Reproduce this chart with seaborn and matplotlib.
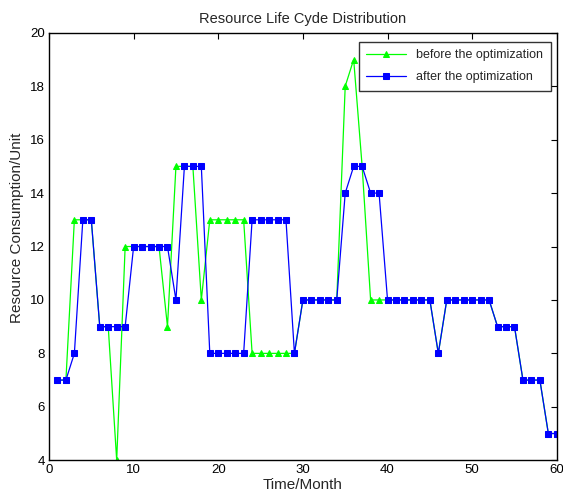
# Resource life cycle distribution, before/after optimization
import pandas as pd
import matplotlib
matplotlib.use("Agg")
import matplotlib.pyplot as plt
import seaborn as sns

# Data
months = list(range(1, 61))
before = [7, 7, 13, 13, 13, 9, 9, 4, 12, 12,
          12, 12, 12, 9, 15, 15, 15, 10, 13, 13,
          13, 13, 13, 8, 8, 8, 8, 8, 8, 10,
          10, 10, 10, 10, 18, 19, 15, 10, 10, 10,
          10, 10, 10, 10, 10, 8, 10, 10, 10, 10,
          10, 10, 9, 9, 9, 7, 7, 7, 5, 5]
after = [7, 7, 8, 13, 13, 9, 9, 9, 9, 12,
         12, 12, 12, 12, 10, 15, 15, 15, 8, 8,
         8, 8, 8, 13, 13, 13, 13, 13, 8, 10,
         10, 10, 10, 10, 14, 15, 15, 14, 14, 10,
         10, 10, 10, 10, 10, 8, 10, 10, 10, 10,
         10, 10, 9, 9, 9, 7, 7, 7, 5, 5]
x_ticks = [0, 10, 20, 30, 40, 50, 60]
y_ticks = [4, 6, 8, 10, 12, 14, 16, 18, 20]

df = pd.DataFrame({"month": months, "before": before, "after": after})

sns.set_style("white")
plt.rcParams["font.family"] = ["Liberation Sans", "DejaVu Sans"]

fig = plt.figure(figsize=(5.63, 4.97), dpi=100)
ax = fig.add_axes([0.087, 0.074, 0.902, 0.86])

sns.lineplot(data=df, x="month", y="before", ax=ax, color="#00ff00",
             marker="^", markersize=4, markeredgecolor="#00ff00",
             linewidth=0.9, label="before the optimization")
sns.lineplot(data=df, x="month", y="after", ax=ax, color="#0000ff",
             marker="s", markersize=4.5, markeredgecolor="#0000ff",
             linewidth=0.9, label="after the optimization")

ax.set_xlim(0, 60)
ax.set_ylim(4, 20)
ax.set_xticks(x_ticks)
ax.set_yticks(y_ticks)
ax.tick_params(direction="in", length=4, width=0.8, labelsize=9.5,
               top=True, right=True, colors="black", pad=3)
for s in ax.spines.values():
    s.set_color("black")
    s.set_linewidth(1.0)

ax.set_title("Resource Life Cyde Distribution", fontsize=10.5, pad=7)
ax.set_xlabel("Time/Month", fontsize=11, labelpad=1)
ax.set_ylabel("Resource Consumption/Unit", fontsize=11)
ax.yaxis.set_label_coords(-0.049, 0.543)

leg = ax.legend(loc="upper right", bbox_to_anchor=(0.988, 0.979),
                borderaxespad=0, fontsize=9, frameon=True, fancybox=False,
                handlelength=3.2, borderpad=0.6, labelspacing=0.8)
leg.get_frame().set_edgecolor("black")
leg.get_frame().set_linewidth(1.0)

fig.savefig("out.png", dpi=100)
